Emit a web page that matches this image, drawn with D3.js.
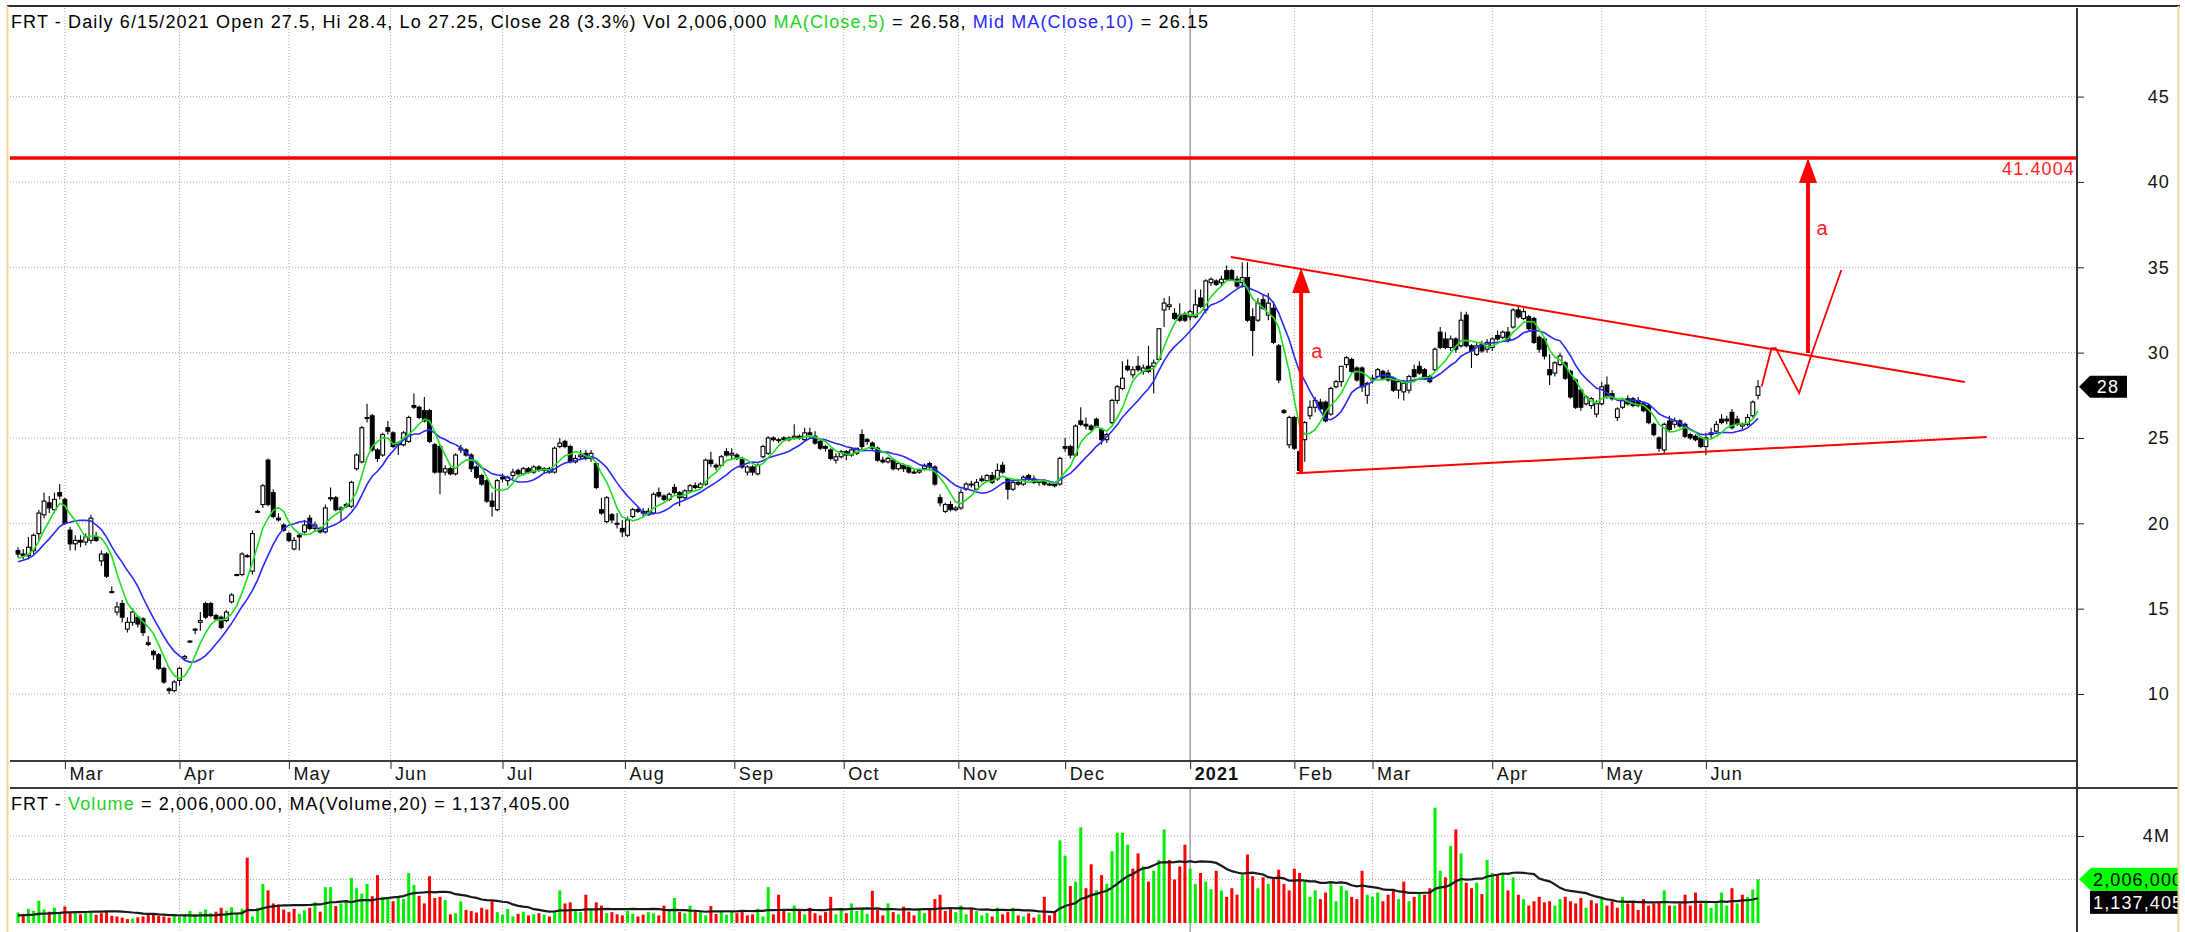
<!DOCTYPE html>
<html>
<head>
<meta charset="utf-8">
<script src="https://cdn.jsdelivr.net/npm/d3@7"></script>
<style>
  body { margin: 0; background: #fff; }
  svg { display: block; }
  text { font-family: "Liberation Sans", Arial, sans-serif; letter-spacing: 1.12px; }
</style>
</head>
<body>
<div id="chart"></div>
<script>
// ---- data (daily bars, 2/18/2020 .. 6/15/2021) ----
const opens = [18.4,18.2,18.1,18.4,19.4,20.5,21.2,20.8,21.8,21.4,19.6,18.8,19.0,18.9,19.0,19.2,17.8,18.2,16.0,14.8,15.3,13.8,14.2,14.5,14.4,13.0,12.5,12.3,11.5,10.3,10.2,10.8,12.1,13.05,13.8,14.2,15.3,15.3,14.6,14.5,14.3,15.4,17.0,17.0,18.1,17.2,20.7,21.1,23.7,21.8,20.3,19.9,19.4,18.5,19.3,19.5,20.3,19.7,19.7,19.5,21.5,21.5,20.8,21.1,21.0,23.2,23.6,26.2,26.3,24.3,24.0,25.6,25.3,24.7,24.6,24.8,26.9,26.8,26.6,26.6,24.6,24.5,23.0,23.2,22.9,24.3,24.3,24.0,23.3,22.8,22.5,21.3,20.8,22.7,22.5,22.8,23.1,22.9,23.2,23.0,23.3,23.1,23.2,23.0,24.5,24.8,24.5,23.6,23.9,24.1,23.8,23.5,20.8,20.1,20.5,20.0,19.7,19.3,20.4,20.8,20.7,20.6,20.6,21.8,21.6,21.4,22.1,21.8,21.5,21.9,22.2,22.1,22.3,23.7,23.4,23.4,24.2,24.0,24.0,23.8,23.0,23.3,22.9,23.9,24.1,25.0,24.9,25.0,24.9,25.0,25.1,24.9,25.3,25.1,24.8,24.5,24.3,23.7,23.9,24.2,24.0,24.1,25.2,24.9,24.7,24.4,23.7,23.6,23.7,23.2,23.4,23.3,23.0,23.0,23.2,23.5,23.3,21.5,20.7,21.1,20.8,20.9,22.0,22.3,22.0,22.6,22.5,22.8,22.6,23.4,22.6,22.0,22.4,22.3,22.8,22.6,22.4,22.5,22.3,22.3,22.3,24.5,24.5,24.0,26.0,25.8,25.7,26.1,25.5,24.9,25.9,27.2,27.9,29.2,28.7,29.2,28.9,29.2,29.2,29.6,32.5,32.7,32.3,32.2,32.2,32.1,32.1,33.2,32.5,34.1,34.2,34.1,34.8,34.8,34.3,34.1,34.4,32.1,31.9,33.1,32.2,32.6,30.4,26.6,24.6,26.2,24.2,24.9,26.3,26.8,27.1,27.1,26.4,28.0,28.3,29.3,29.6,29.1,29.1,27.5,28.5,28.6,28.9,28.8,28.5,27.8,27.7,27.8,29.0,29.2,29.0,28.6,29.0,31.2,30.8,30.3,30.8,30.4,32.2,30.4,29.9,30.5,30.2,30.3,31.0,30.9,31.2,31.5,32.5,32.0,32.1,32.0,30.9,30.8,29.0,28.8,29.3,29.4,28.9,28.4,27.8,27.0,26.9,26.4,27.0,28.1,27.6,26.2,26.8,27.3,27.3,27.2,27.0,26.9,25.8,25.0,24.3,26.0,25.8,26.0,25.8,25.2,25.1,25.0,24.5,25.2,25.4,26.1,26.1,26.5,26.1,25.7,25.8,26.3,27.5];
const highs = [18.6,18.5,19.2,19.4,20.8,21.8,21.6,21.8,22.3,21.5,19.8,19.3,19.3,19.4,20.5,19.5,18.4,18.3,16.3,15.4,15.5,14.5,15.0,14.6,14.5,13.4,12.6,12.4,11.6,10.4,10.8,11.6,12.3,13.15,13.85,14.8,15.4,15.4,14.7,14.6,14.9,15.9,17.05,18.3,18.2,19.6,20.8,22.3,23.8,22.0,20.6,20.0,19.5,19.2,19.4,20.2,20.5,20.1,19.8,21.1,22.1,21.6,21.0,21.2,22.5,24.1,25.7,27.0,26.4,24.4,25.3,26.0,25.4,24.8,25.4,26.3,27.6,26.9,27.4,26.7,24.7,24.6,23.4,23.3,24.1,24.6,24.4,24.1,23.4,22.9,22.6,21.8,22.6,22.9,22.8,23.2,23.2,23.3,23.3,23.4,23.4,23.3,23.3,24.5,25.0,24.9,24.6,24.0,24.3,24.3,24.3,23.6,21.5,21.6,20.6,20.6,20.2,20.4,20.9,21.0,20.9,20.9,21.8,22.1,21.7,21.8,22.3,21.9,22.0,22.3,22.4,22.4,23.8,24.2,23.5,24.0,24.4,24.4,24.1,23.9,23.4,23.4,23.5,24.6,25.1,25.1,25.0,25.1,25.1,25.8,25.2,25.6,25.6,25.4,24.9,24.6,24.4,24.1,24.3,24.3,24.4,24.4,25.5,25.0,24.8,24.5,23.9,23.9,23.8,23.6,23.5,23.4,23.2,23.2,23.5,23.6,23.4,21.7,21.2,21.3,21.0,22.0,22.4,22.5,22.6,22.8,22.9,23.0,23.5,23.6,22.7,22.5,22.6,22.8,22.9,22.8,22.6,22.6,22.5,22.4,23.9,25.0,24.6,25.8,26.8,26.2,25.8,26.2,25.6,25.3,27.3,28.1,29.5,29.6,29.2,29.8,29.3,30.4,29.6,31.4,33.2,33.3,32.6,32.9,32.4,32.5,33.7,33.7,34.3,34.4,34.3,34.5,35.1,34.9,34.5,35.3,35.3,32.6,33.2,33.4,33.5,33.0,30.5,26.7,26.3,26.3,24.3,26.0,27.2,27.4,27.3,27.2,28.0,28.4,29.2,29.8,29.7,29.2,29.2,28.3,28.7,29.1,29.0,29.0,28.6,28.4,28.4,28.7,29.3,29.5,29.1,28.7,30.3,31.5,31.2,31.0,30.9,32.4,32.4,30.5,30.6,30.7,30.8,30.9,31.3,31.3,31.5,32.6,32.7,32.6,32.2,32.1,31.0,30.9,29.9,29.5,30.0,29.5,29.0,28.5,27.9,27.5,27.4,27.2,28.3,28.6,27.8,26.8,27.3,27.5,27.4,27.4,27.1,27.0,25.9,25.1,25.9,26.3,26.2,26.1,25.9,25.3,25.2,25.1,25.3,25.6,26.0,26.4,26.3,26.7,26.3,25.9,26.4,27.2,28.4];
const lows = [18.0,17.9,17.9,18.2,19.0,20.3,20.6,20.6,21.4,19.9,18.4,18.4,18.6,18.7,18.8,18.9,17.5,16.8,15.9,14.6,14.2,13.6,14.0,13.9,13.4,12.8,12.0,11.4,10.6,10.0,10.1,10.5,12.0,13.0,13.5,13.7,14.4,14.5,14.3,13.8,14.2,15.3,16.9,16.9,18.0,17.0,20.6,20.9,21.0,20.3,20.1,19.5,18.9,18.4,18.4,19.4,19.6,19.5,19.4,19.4,21.3,20.7,20.1,20.9,20.9,23.1,23.5,25.9,24.2,23.6,23.9,25.2,24.4,24.0,24.5,24.7,26.7,26.1,25.9,24.7,22.9,21.7,22.8,22.8,22.8,24.1,23.9,23.0,22.6,22.2,21.2,20.4,20.7,22.4,22.2,22.6,22.8,22.8,22.9,22.9,23.0,22.9,22.9,22.9,24.4,24.4,23.5,23.5,23.7,23.7,23.6,22.0,20.5,20.0,20.0,19.7,19.2,19.2,20.3,20.6,20.4,20.5,20.5,21.5,21.3,21.3,21.7,21.0,21.4,21.8,22.0,22.0,22.2,23.3,23.1,23.3,23.9,23.7,23.7,23.2,22.8,22.8,22.8,23.8,24.0,24.8,24.7,24.8,24.8,24.9,24.9,24.8,25.0,24.6,24.3,24.2,23.7,23.5,23.8,23.7,23.9,24.0,24.3,24.6,24.3,23.6,23.5,23.5,23.1,23.1,23.0,22.9,22.9,22.9,23.1,23.1,22.2,21.0,20.6,20.7,20.7,20.8,21.9,22.1,21.9,22.4,22.4,22.3,22.5,22.9,21.4,21.9,22.2,22.2,22.5,22.3,22.2,22.2,22.2,22.1,22.2,24.2,23.8,23.9,25.7,25.5,25.4,25.6,24.6,24.7,25.8,27.0,27.8,28.9,28.5,28.9,28.7,28.8,27.6,29.5,31.5,32.5,31.9,31.8,31.8,31.9,32.0,32.6,32.3,33.9,33.9,33.9,34.2,34.2,33.8,33.8,31.8,29.8,31.8,32.5,31.9,30.5,28.2,26.4,24.4,24.3,22.9,23.6,26.1,26.5,26.6,25.9,26.3,27.9,28.0,29.1,28.8,28.3,27.7,27.0,28.2,28.5,28.4,28.3,27.7,27.3,27.2,27.6,28.5,28.7,28.4,28.2,28.9,30.2,30.2,30.1,30.0,30.3,30.3,29.1,29.8,30.0,30.0,30.1,30.7,30.8,30.6,31.4,32.0,31.9,31.3,30.5,30.0,29.6,28.1,28.6,29.2,28.4,27.3,26.7,26.6,26.9,26.7,26.2,26.9,27.3,27.2,26.0,26.7,26.9,26.8,26.8,26.5,25.8,25.1,24.2,24.1,25.4,25.6,25.6,25.0,24.9,24.8,24.4,24.0,25.0,25.3,25.8,25.8,25.5,25.7,25.5,25.7,26.2,27.25];
const closes = [18.2,18.1,18.6,19.3,20.6,21.3,20.9,21.4,21.6,20.0,18.8,19.0,18.9,19.2,20.3,19.0,18.2,16.9,16.0,15.1,14.5,14.2,14.8,14.1,13.6,12.9,12.3,11.5,10.7,10.2,10.7,11.5,12.2,13.1,13.8,14.3,14.5,14.6,14.4,13.9,14.8,15.8,17.0,18.2,18.1,19.4,20.7,22.2,21.1,20.4,20.2,19.6,19.0,19.0,19.2,19.9,19.7,19.9,19.5,20.9,21.5,20.8,20.9,21.0,22.4,24.0,25.6,26.2,24.3,23.8,25.2,25.4,24.5,24.6,25.3,26.2,26.8,26.2,26.0,24.8,23.0,23.0,23.2,22.9,24.0,24.4,24.0,23.2,22.7,22.3,21.3,21.0,22.5,22.6,22.7,23.0,22.9,23.2,23.0,23.3,23.1,23.2,23.0,24.4,24.7,24.5,23.6,23.8,24.0,23.8,24.1,22.1,20.6,21.5,20.2,20.0,19.5,20.2,20.8,20.7,20.6,20.7,21.7,21.6,21.4,21.7,21.8,21.5,21.9,22.2,22.1,22.3,23.7,23.5,23.3,23.9,24.0,24.1,23.8,23.3,23.3,23.0,23.4,24.5,25.0,24.9,24.9,24.9,25.0,25.1,25.0,25.3,25.2,24.7,24.4,24.4,23.8,23.9,24.2,24.0,24.3,24.4,24.5,24.8,24.4,23.7,23.6,23.8,23.2,23.5,23.2,23.0,23.0,23.1,23.4,23.3,22.3,21.2,21.1,20.8,20.9,21.8,22.3,22.3,22.4,22.5,22.8,22.4,23.1,23.0,22.0,22.4,22.3,22.7,22.6,22.4,22.5,22.3,22.3,22.2,23.8,24.4,24.0,25.7,25.8,25.7,25.5,25.7,24.9,25.2,27.2,28.0,28.5,29.0,29.0,29.0,29.1,28.9,29.4,31.4,32.9,32.8,32.0,31.9,31.9,32.4,32.8,32.7,34.2,34.3,34.0,34.3,34.3,34.3,33.9,34.4,31.9,31.3,32.9,32.6,32.9,30.6,28.4,26.5,26.2,24.4,23.1,25.9,26.8,27.2,26.7,26.0,27.9,28.3,29.2,29.7,28.9,28.4,28.0,28.2,28.4,29.0,28.5,28.4,27.8,28.3,28.2,28.6,28.6,28.8,28.5,28.3,30.2,30.3,30.3,30.8,30.2,31.9,30.4,30.1,30.4,30.1,30.6,30.8,30.8,31.2,30.7,32.5,32.1,32.4,31.4,30.6,30.2,29.8,28.7,29.4,29.8,28.5,27.4,26.8,26.8,27.4,27.3,27.0,28.0,27.4,27.3,26.7,27.2,27.0,26.9,26.9,26.6,25.9,25.2,24.4,25.8,25.5,26.0,25.7,25.1,25.0,24.9,24.5,25.0,25.3,25.8,25.9,26.0,25.6,25.8,25.8,26.2,27.1,28.0];
// volume in thousands of shares
const volumes = [480,420,650,560,1020,620,520,700,480,
  760,450,520,400,480,560,380,450,520,330,300,250,180,200,260,300,380,420,330,300,250,350,
  280,420,560,400,520,620,450,520,700,560,720,420,650,3000,300,700,1800,1500,900,850,620,
  500,650,420,580,700,950,520,1650,1650,780,900,1050,2070,1600,1350,1800,1230,2200,1200,1200,
  1000,1200,1100,2300,1750,1250,900,2150,1150,1200,1050,400,450,1000,600,550,480,700,620,1000,500,380,
  650,300,420,520,350,400,450,380,300,500,1500,900,950,650,500,1300,650,950,800,450,500,400,
  350,550,420,300,380,500,450,350,800,550,1150,500,450,800,600,500,350,780,420,560,380,
  500,450,600,350,400,650,300,1650,400,1300,600,480,800,550,400,700,450,350,500,1200,400,
  600,450,900,550,700,420,1480,600,350,900,500,400,750,520,350,650,450,600,1100,1300,550,700,
  500,800,400,650,550,350,450,300,700,400,500,700,350,300,450,250,400,1200,350,500,
  3800,3100,1700,1900,4400,1600,2700,1500,2200,1800,3300,4150,4150,3600,2500,3200,2600,1900,2400,2900,4300,2900,
  2000,2600,3600,2500,1800,2300,1900,1550,2400,1500,1200,1600,1300,2200,3150,2150,1600,2100,1800,
  2100,2450,1800,1500,2500,2300,1900,1200,1500,1100,1400,1900,1000,1700,1500,1200,1100,2400,1300,
  1200,1400,1000,1300,1500,1100,1900,1000,1200,1400,1300,1600,5300,2400,2100,3550,4300,3200,1850,1600,1850,1330,2900,
  2300,2200,2250,1500,2100,1300,1100,800,1000,1200,950,1000,800,1100,1200,1000,900,1150,700,1050,900,
  1100,800,1000,700,1200,900,1000,600,1100,800,900,1000,1500,800,800,900,1300,800,1400,900,
  1000,700,900,1400,800,1600,900,1300,1200,1542.1,2006];
// bars before the visible window, only used to seed the moving averages
const priorCloses = [17.3,17.5,17.4,17.6,17.9,17.7,17.8,18.0,18.1];
const priorVolumes = [320,380,300,350,400,280,330,360,310,420,350,300,380,340,290,360,330,400,350];

const monthLabels = ["Mar","Apr","May","Jun","Jul","Aug","Sep","Oct","Nov","Dec","2021","Feb","Mar","Apr","May","Jun"];
const monthTickIdx = [9,31,52,71.5,93,116.5,137.5,158.5,180.5,201,225,245,260,283,304,324];
const priceTicks = [10,15,20,25,30,35,40,45];
const volTicks = [2000,4000];

// drawn annotations: [bar index, price]
const targetLevel = 41.4004;
const upperTrend = [[232.8,35.6],[373.7,28.28]];
const lowerTrend = [[245.4,22.94],[377.9,25.06]];
const arrows = [[246.3,23.0,34.96],[343.6,29.98,41.4004]];
const arrowLabels = [[249.4,30.1],[346.4,37.3]];
const projection = [[334.7,28.01],[336.6,30.26],[337.4,30.26],[341.9,27.62],[344.3,29.92],[350,34.84]];

// ---- layout ----
const width = 2185, height = 932;
const plotLeft = 10, plotRight = 2077;
const priceTop = 8, priceBottom = 761;
const volTop = 788, volBottom = 932;

const svg = d3.select("#chart").append("svg")
  .attr("width", width).attr("height", height)
  .attr("viewBox", `0 0 ${width} ${height}`);

const xScale = d3.scaleLinear().domain([0, 334]).range([18, 1758]);
const yPrice = d3.scaleLinear().domain([10, 45]).range([694, 96.6]);
const yVol = d3.scaleLinear().domain([0, 4000]).range([923, 836]);

const bars = closes.map((c, i) => ({
  i, o: opens[i], h: highs[i], l: lows[i], c, v: volumes[i],
  prev: i === 0 ? priorCloses[priorCloses.length - 1] : closes[i - 1]
}));

const movingAvg = (values, prior, n) => {
  const all = prior.concat(values);
  return values.map((_, i) => {
    const j = i + prior.length;
    return j < n - 1 ? null : d3.mean(all.slice(j - n + 1, j + 1));
  });
};
const ma5 = movingAvg(closes, priorCloses, 5);
const ma10 = movingAvg(closes, priorCloses, 10);
const volMa20 = movingAvg(volumes, priorVolumes, 20);

const defs = svg.append("defs");
defs.append("clipPath").attr("id", "clipPrice").append("rect")
  .attr("x", plotLeft).attr("y", priceTop).attr("width", plotRight - plotLeft).attr("height", priceBottom - priceTop);
defs.append("clipPath").attr("id", "clipVol").append("rect")
  .attr("x", plotLeft).attr("y", volTop).attr("width", plotRight - plotLeft).attr("height", volBottom - volTop);
defs.append("clipPath").attr("id", "clipRight").append("rect")
  .attr("x", 0).attr("y", 0).attr("width", 2178).attr("height", height);

// ---- grid ----
const gridColor = "#a9a9a9";
const grid = svg.append("g");
grid.selectAll(".hgrid").data(priceTicks).join("line")
  .attr("x1", plotLeft).attr("x2", plotRight)
  .attr("y1", d => yPrice(d)).attr("y2", d => yPrice(d))
  .attr("stroke", gridColor).attr("stroke-dasharray", "1,2");
grid.selectAll(".vgrid").data(volTicks).join("line")
  .attr("x1", plotLeft).attr("x2", plotRight)
  .attr("y1", d => yVol(d)).attr("y2", d => yVol(d))
  .attr("stroke", gridColor).attr("stroke-dasharray", "1,2");
[[priceTop, priceBottom], [volTop, volBottom]].forEach(([y0, y1]) => {
  grid.append("g").selectAll("line").data(monthTickIdx).join("line")
    .attr("x1", d => xScale(d)).attr("x2", d => xScale(d))
    .attr("y1", y0).attr("y2", y1)
    .attr("stroke", (d, i) => monthLabels[i] === "2021" ? "#a0a0a0" : gridColor)
    .attr("stroke-width", (d, i) => monthLabels[i] === "2021" ? 1.5 : 1)
    .attr("stroke-dasharray", (d, i) => monthLabels[i] === "2021" ? null : "1,2");
});

// ---- price panel ----
const pricePanel = svg.append("g").attr("clip-path", "url(#clipPrice)");

pricePanel.append("line")
  .attr("x1", plotLeft).attr("x2", plotRight)
  .attr("y1", yPrice(targetLevel)).attr("y2", yPrice(targetLevel))
  .attr("stroke", "#ff0000").attr("stroke-width", 3.5);

pricePanel.append("g").selectAll("line").data(bars).join("line")
  .attr("x1", d => xScale(d.i)).attr("x2", d => xScale(d.i))
  .attr("y1", d => yPrice(d.h)).attr("y2", d => yPrice(d.l))
  .attr("stroke", "#000").attr("stroke-width", 1.1);

pricePanel.append("g").selectAll("rect").data(bars).join("rect")
  .attr("x", d => xScale(d.i) - 1.9)
  .attr("y", d => yPrice(Math.max(d.o, d.c)))
  .attr("width", 3.8)
  .attr("height", d => Math.max(1, Math.abs(yPrice(d.o) - yPrice(d.c))))
  .attr("fill", d => d.c >= d.o ? "#fff" : "#000")
  .attr("stroke", "#000").attr("stroke-width", 1.1);

const maLine = d3.line().defined(d => d != null).x((d, i) => xScale(i)).y(d => yPrice(d));
pricePanel.append("path").attr("d", maLine(ma10))
  .attr("fill", "none").attr("stroke", "#2828ff").attr("stroke-width", 1.6);
pricePanel.append("path").attr("d", maLine(ma5))
  .attr("fill", "none").attr("stroke", "#1ee01e").attr("stroke-width", 1.6);

// trendlines, arrows and projected path
const pt = d3.line().x(d => xScale(d[0])).y(d => yPrice(d[1]));
[upperTrend, lowerTrend].forEach(t => {
  pricePanel.append("path").attr("d", pt(t))
    .attr("fill", "none").attr("stroke", "#ff0000").attr("stroke-width", 2);
});
pricePanel.append("path").attr("d", pt(projection))
  .attr("fill", "none").attr("stroke", "#ff0000").attr("stroke-width", 1.8);

arrows.forEach(([idx, from, to]) => {
  const x = xScale(idx), yTip = yPrice(to);
  pricePanel.append("line")
    .attr("x1", x).attr("x2", x).attr("y1", yPrice(from)).attr("y2", yTip + 20)
    .attr("stroke", "#ff0000").attr("stroke-width", 4);
  pricePanel.append("path")
    .attr("d", `M${x},${yTip} L${x - 9},${yTip + 25} L${x + 9},${yTip + 25} Z`)
    .attr("fill", "#ff0000");
});
pricePanel.selectAll(".alab").data(arrowLabels).join("text")
  .attr("x", d => xScale(d[0])).attr("y", d => yPrice(d[1]) + 7)
  .attr("fill", "#ff2020").attr("font-size", 20).attr("text-anchor", "middle")
  .text("a");

svg.append("text")
  .attr("x", plotRight - 2).attr("y", yPrice(targetLevel) + 17)
  .attr("text-anchor", "end").attr("font-size", 18).attr("fill", "#ff2020")
  .text(targetLevel.toFixed(4));

// ---- volume panel ----
const volPanel = svg.append("g").attr("clip-path", "url(#clipVol)");
volPanel.append("g").selectAll("rect").data(bars).join("rect")
  .attr("x", d => xScale(d.i) - 1.5)
  .attr("y", d => yVol(d.v))
  .attr("width", 3)
  .attr("height", d => yVol(0) - yVol(d.v))
  .attr("fill", d => d.c > d.prev ? "#00ee00" : "#ff0000");
volPanel.append("path")
  .attr("d", d3.line().defined(d => d != null).x((d, i) => xScale(i)).y(d => yVol(d))(volMa20))
  .attr("fill", "none").attr("stroke", "#1a1a1a").attr("stroke-width", 2.2);

// ---- date band ----
svg.append("rect").attr("x", plotLeft).attr("y", priceBottom).attr("width", plotRight - plotLeft).attr("height", volTop - priceBottom).attr("fill", "#fff");
const dateAxis = d3.axisBottom(xScale)
  .tickValues(monthTickIdx)
  .tickFormat((d, i) => monthLabels[i])
  .tickSize(8);
svg.append("g")
  .attr("transform", `translate(0,${priceBottom})`)
  .call(dateAxis)
  .call(g => g.select(".domain").remove())
  .call(g => g.selectAll(".tick line").attr("stroke", "#222"))
  .call(g => g.selectAll(".tick text")
    .attr("text-anchor", "start").attr("x", 4).attr("y", 19).attr("dy", null)
    .attr("font-size", 18).attr("fill", "#111")
    .attr("font-family", "'Liberation Sans', Arial, sans-serif")
    .attr("font-weight", (d, i) => monthLabels[i] === "2021" ? "bold" : null));

svg.append("line").attr("x1", plotLeft).attr("x2", plotRight).attr("y1", priceBottom).attr("y2", priceBottom)
  .attr("stroke", "#3a3a3a").attr("stroke-width", 2);
svg.append("line").attr("x1", plotLeft).attr("x2", 2178).attr("y1", volTop).attr("y2", volTop)
  .attr("stroke", "#3a3a3a").attr("stroke-width", 2);

// ---- right axes ----
const styleRightAxis = g => g
  .call(g => g.select(".domain").remove())
  .call(g => g.selectAll(".tick line").attr("stroke", "#222"))
  .call(g => g.selectAll(".tick text")
    .attr("text-anchor", "end").attr("x", 93).attr("font-size", 18).attr("fill", "#111")
    .attr("font-family", "'Liberation Sans', Arial, sans-serif"));

svg.append("g")
  .attr("transform", `translate(${plotRight},0)`)
  .call(d3.axisRight(yPrice).tickValues(priceTicks).tickSize(7))
  .call(styleRightAxis);

svg.append("g")
  .attr("transform", `translate(${plotRight},0)`)
  .call(d3.axisRight(yVol).tickValues([4000]).tickSize(7).tickFormat(d => d / 1000 + "M"))
  .call(styleRightAxis);

svg.append("line").attr("x1", plotRight).attr("x2", plotRight).attr("y1", priceTop).attr("y2", height)
  .attr("stroke", "#333").attr("stroke-width", 2);

// last price tag
const last = bars[bars.length - 1];
const yLast = yPrice(last.c);
svg.append("path")
  .attr("d", `M${plotRight + 2},${yLast} L${plotRight + 13},${yLast - 11} L${plotRight + 50},${yLast - 11} L${plotRight + 50},${yLast + 11} L${plotRight + 13},${yLast + 11} Z`)
  .attr("fill", "#000");
svg.append("text").attr("x", plotRight + 31).attr("y", yLast + 6.5)
  .attr("text-anchor", "middle").attr("font-size", 18).attr("fill", "#fff").text(d3.format(".0f")(last.c));

// volume tags
const tags = svg.append("g").attr("clip-path", "url(#clipRight)");
const yV = yVol(last.v);
tags.append("path")
  .attr("d", `M${plotRight + 2},${yV} L${plotRight + 14},${yV - 11.5} L${width},${yV - 11.5} L${width},${yV + 11.5} L${plotRight + 14},${yV + 11.5} Z`)
  .attr("fill", "#00ff00");
tags.append("text").attr("x", plotRight + 16).attr("y", yV + 7)
  .attr("font-size", 18).attr("fill", "#000").text(d3.format(",")(last.v * 1000));
tags.append("rect").attr("x", plotRight + 13).attr("y", yV + 11.5).attr("width", 120).attr("height", 23).attr("fill", "#000");
tags.append("text").attr("x", plotRight + 16).attr("y", yV + 30)
  .attr("font-size", 18).attr("fill", "#fff").text(d3.format(",")(Math.round(volMa20[volMa20.length - 1] * 1000)));

// ---- headers ----
const header = svg.append("text").attr("x", 11).attr("y", 28).attr("font-size", 18).attr("fill", "#000");
header.append("tspan").text("FRT - Daily 6/15/2021 Open 27.5, Hi 28.4, Lo 27.25, Close 28 (3.3%) Vol 2,006,000 ");
header.append("tspan").attr("fill", "#1ed21e").text("MA(Close,5)");
header.append("tspan").text(" = 26.58, ");
header.append("tspan").attr("fill", "#2828ff").text("Mid MA(Close,10)");
header.append("tspan").text(" = 26.15");

const vheader = svg.append("text").attr("x", 11).attr("y", 810).attr("font-size", 18).attr("fill", "#000");
vheader.append("tspan").text("FRT - ");
vheader.append("tspan").attr("fill", "#1ed21e").text("Volume");
vheader.append("tspan").text(" = 2,006,000.00, MA(Volume,20) = 1,137,405.00");

// ---- frame ----
svg.append("line").attr("x1", 7).attr("x2", 2180).attr("y1", 6).attr("y2", 6).attr("stroke", "#2a2f40").attr("stroke-width", 2);
svg.append("line").attr("x1", 7.5).attr("x2", 7.5).attr("y1", 6).attr("y2", height).attr("stroke", "#f6d58e").attr("stroke-width", 2);
svg.append("line").attr("x1", 2178.5).attr("x2", 2178.5).attr("y1", 6).attr("y2", height).attr("stroke", "#efd796").attr("stroke-width", 2);
</script>
</body>
</html>
